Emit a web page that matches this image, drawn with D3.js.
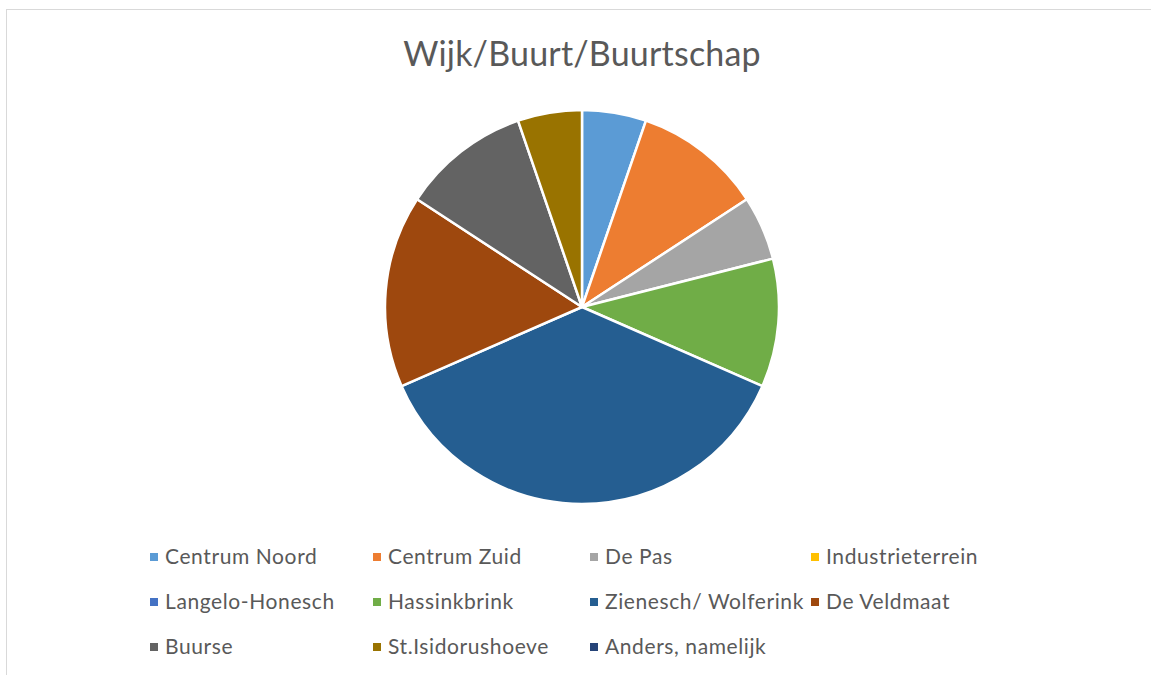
<!DOCTYPE html>
<html>
<head>
<meta charset="utf-8">
<script src="https://cdn.jsdelivr.net/npm/d3@7"></script>
<style>
  body { margin: 0; background: #fff; }
  text { font-family: Lato, "Open Sans", sans-serif; fill: #595959; }
</style>
</head>
<body>
<script>
var categories = ["Centrum Noord", "Centrum Zuid", "De Pas", "Industrieterrein",
                  "Langelo-Honesch", "Hassinkbrink", "Zienesch/ Wolferink", "De Veldmaat",
                  "Buurse", "St.Isidorushoeve", "Anders, namelijk"];
var counts = [1, 2, 1, 0, 0, 2, 7, 3, 2, 1, 0];
var colors = ["#5B9BD5", "#ED7D31", "#A5A5A5", "#FFC000", "#4472C4", "#70AD47",
              "#255E91", "#9E480E", "#636363", "#997300", "#264478"];
var title = "Wijk/Buurt/Buurtschap";

var width = 1151, height = 675;
var svg = d3.select("body").append("svg")
    .attr("width", width)
    .attr("height", height);

// chart area border
svg.append("rect")
    .attr("x", 6.5).attr("y", 9.5)
    .attr("width", 1200).attr("height", 800)
    .attr("fill", "#fff")
    .attr("stroke", "#D9D9D9");

svg.append("text")
    .attr("x", 582).attr("y", 66)
    .attr("text-anchor", "middle")
    .style("font-size", "34px")
    .style("letter-spacing", "0.2px")
    .text(title);

var data = categories.map(function(c, i) { return {name: c, value: counts[i], color: colors[i]}; });

var pie = d3.pie().sort(null).value(function(d) { return d.value; });
var arc = d3.arc().innerRadius(0).outerRadius(197);

var g = svg.append("g").attr("transform", "translate(582,307)");
g.selectAll("path")
    .data(pie(data).filter(function(d) { return d.data.value > 0; }))
    .enter().append("path")
    .attr("d", arc)
    .attr("fill", function(d) { return d.data.color; })
    .attr("stroke", "#fff")
    .attr("stroke-width", 2.5)
    .attr("stroke-linejoin", "round");

// legend, 4 columns
var colX = [150, 373, 590, 811];
var rowY = [557, 602, 647];
var legend = svg.selectAll("g.leg")
    .data(data)
    .enter().append("g")
    .attr("class", "leg")
    .attr("transform", function(d, i) {
      return "translate(" + colX[i % 4] + "," + rowY[Math.floor(i / 4)] + ")";
    });
legend.append("rect")
    .attr("x", 0).attr("y", -4)
    .attr("width", 8).attr("height", 8)
    .attr("fill", function(d) { return d.color; });
legend.append("text")
    .attr("x", 15).attr("y", 0)
    .attr("dy", "0.35em")
    .style("font-size", "21px")
    .style("letter-spacing", "0.6px")
    .text(function(d) { return d.name; });
</script>
</body>
</html>
